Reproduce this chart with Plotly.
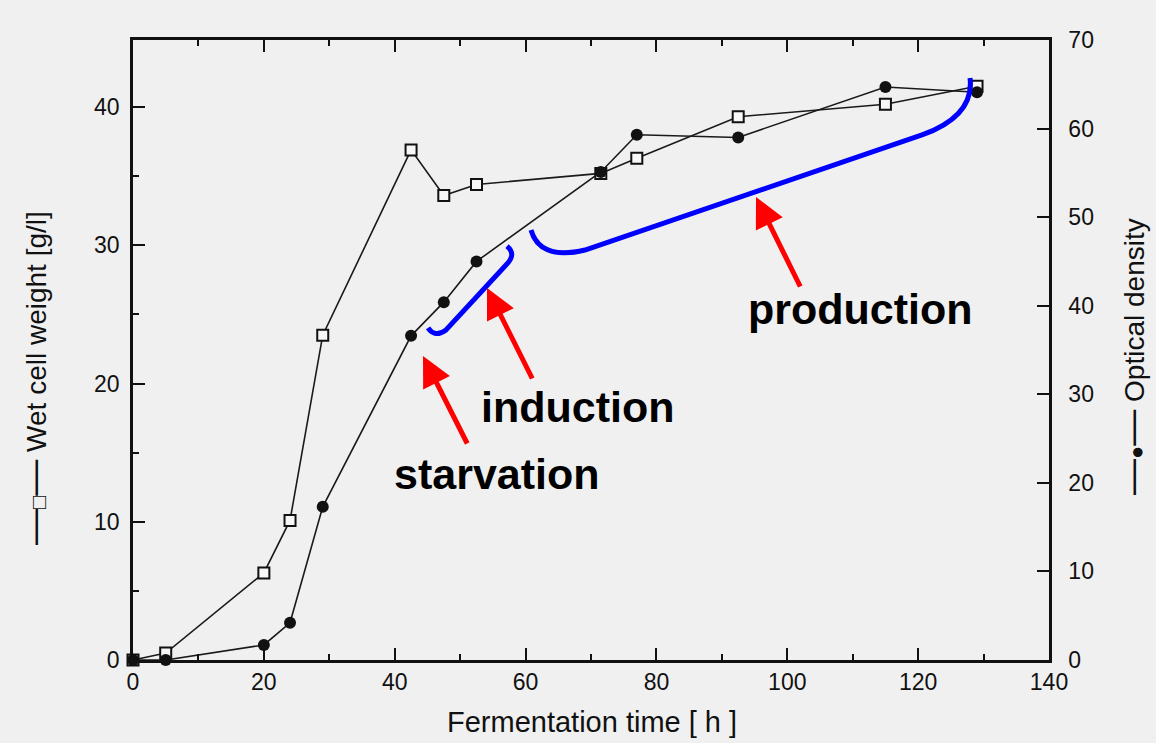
import plotly.graph_objects as go

# ---------------- data ----------------
time_h = [0, 5, 20, 24, 29, 42.5, 47.5, 52.5, 71.5, 77, 92.5, 115, 129]
wet_cell_weight = [0, 0.5, 6.3, 10.1, 23.5, 36.9, 33.6, 34.4, 35.2, 36.3, 39.3, 40.2, 41.5]
optical_density = [0, 0, 1.7, 4.2, 17.3, 36.6, 40.4, 45.0, 55.1, 59.3, 59.0, 64.7, 64.1]

x_ticks = [0, 20, 40, 60, 80, 100, 120, 140]
y1_ticks = [0, 10, 20, 30, 40]
y2_ticks = [0, 10, 20, 30, 40, 50, 60, 70]

phase_labels = ["starvation", "induction", "production"]

# ---------------- layout geometry ----------------
W, H = 1156, 743
ML, MR, MT, MB = 133, 107, 40, 83
PW, PH = W - ML - MR, H - MT - MB
BG = "#f0f0f0"


def paper(xp, yp):
    return (xp - ML) / PW, (MT + PH - yp) / PH


def path_from(cmds):
    out = []
    for c in cmds:
        letter, nums = c[0], c[1:]
        pts = []
        for i in range(0, len(nums), 2):
            px, py = paper(nums[i], nums[i + 1])
            pts.append(f"{px:.4f},{py:.4f}")
        out.append(letter + " " + " ".join(pts))
    return " ".join(out)


fig = go.Figure()

fig.add_trace(go.Scatter(
    x=time_h, y=wet_cell_weight, mode="lines+markers", name="Wet cell weight",
    line=dict(color="#1a1a1a", width=1.6),
    marker=dict(symbol="square", size=11, color="#f7f7f7",
                line=dict(color="#111", width=2)),
    cliponaxis=False, yaxis="y",
))
fig.add_trace(go.Scatter(
    x=time_h, y=optical_density, mode="lines+markers", name="Optical density",
    line=dict(color="#1a1a1a", width=1.6),
    marker=dict(symbol="circle", size=12, color="#111"),
    cliponaxis=False, yaxis="y2",
))

tick_font = dict(family="Liberation Sans, Arial, sans-serif", size=23, color="#111")
axis_common = dict(showgrid=False, zeroline=False, showline=True, linecolor="#111",
                   linewidth=2.5, ticks="inside", ticklen=12, tickwidth=2,
                   tickcolor="#111", tickfont=tick_font)

fig.update_layout(
    width=W, height=H,
    margin=dict(l=ML, r=MR, t=MT, b=MB),
    paper_bgcolor=BG, plot_bgcolor=BG,
    showlegend=False,
    xaxis=dict(range=[0, 140], tickvals=x_ticks, mirror="ticks",
               minor=dict(dtick=10, ticklen=6, ticks="inside", tickcolor="#111", tickwidth=2),
               **axis_common),
    yaxis=dict(range=[0, 44.85], tickvals=y1_ticks,
               minor=dict(dtick=5, ticklen=6, ticks="inside", tickcolor="#111", tickwidth=2),
               ticklabelstandoff=6, **axis_common),
    yaxis2=dict(range=[0, 70], tickvals=y2_ticks, overlaying="y", side="right",
                anchor="x", ticklabelstandoff=12, **axis_common),
)

title_font = dict(family="Liberation Sans, Arial, sans-serif", size=28, color="#111")

DASH = "<span style='font-size:36px'>—</span>"
# axis titles as annotations (pixel-placed)
ax_titles = [
    (DASH + "<span style='font-size:22px'>□</span>" + DASH + " Wet cell weight [g/l]", 33, 378),
    (DASH + "<span style='font-size:22px'>●</span>" + DASH + " Optical density", 1132, 357),
]
for txt, xp, yp in ax_titles:
    px_, py_ = paper(xp, yp)
    fig.add_annotation(text=txt, x=px_, y=py_, xref="paper", yref="paper",
                       showarrow=False, textangle=-90, font=title_font,
                       xanchor="center", yanchor="middle")

px_, py_ = paper(592, 722)
fig.add_annotation(text="Fermentation time [ h ]", x=px_, y=py_, xref="paper", yref="paper",
                   showarrow=False, font=dict(family="Liberation Sans, Arial, sans-serif", size=29, color="#111"),
                   xanchor="center", yanchor="middle")

# phase labels
label_pos = [(497, 474), (577, 407), (860, 309)]
label_font = dict(family="Liberation Sans, Arial, sans-serif", size=43, color="black")
for txt, (xp, yp) in zip(phase_labels, label_pos):
    px_, py_ = paper(xp, yp)
    fig.add_annotation(text=f"<b>{txt}</b>", x=px_, y=py_, xref="paper", yref="paper",
                       showarrow=False, font=label_font, xanchor="center", yanchor="middle")

# red arrows (head, tail offsets in px)
arrows = [((423, 356), (45, 89)), ((487, 288), (46, 92)), ((756, 197), (45, 91))]
for (hx, hy), (dx, dy) in arrows:
    px_, py_ = paper(hx, hy)
    fig.add_annotation(text="", x=px_, y=py_, xref="paper", yref="paper",
                       showarrow=True, ax=dx, ay=dy, arrowhead=2, arrowsize=1.2,
                       arrowwidth=5, arrowcolor="#ff0000", standoff=0)

# blue brackets
ind_bracket = [("M", 428, 328), ("C", 432, 334, 438, 336, 446, 330),
               ("L", 506, 265), ("C", 513, 258, 514, 252, 507, 246)]
prod_bracket = [("M", 531, 230), ("C", 536, 248, 552, 258, 585, 250),
                ("L", 922, 135), ("C", 958, 122, 973, 103, 970, 78)]
for br in (ind_bracket, prod_bracket):
    fig.add_shape(type="path", path=path_from(br), xref="paper", yref="paper",
                  line=dict(color="#0000ff", width=5), fillcolor="rgba(0,0,0,0)")

fig.write_html(
    "out.html",
    config={"displayModeBar": False},
    post_script="document.body.style.margin='0';document.body.style.padding='0';"
                "document.body.style.overflow='hidden';document.body.style.background='#f0f0f0';",
)
